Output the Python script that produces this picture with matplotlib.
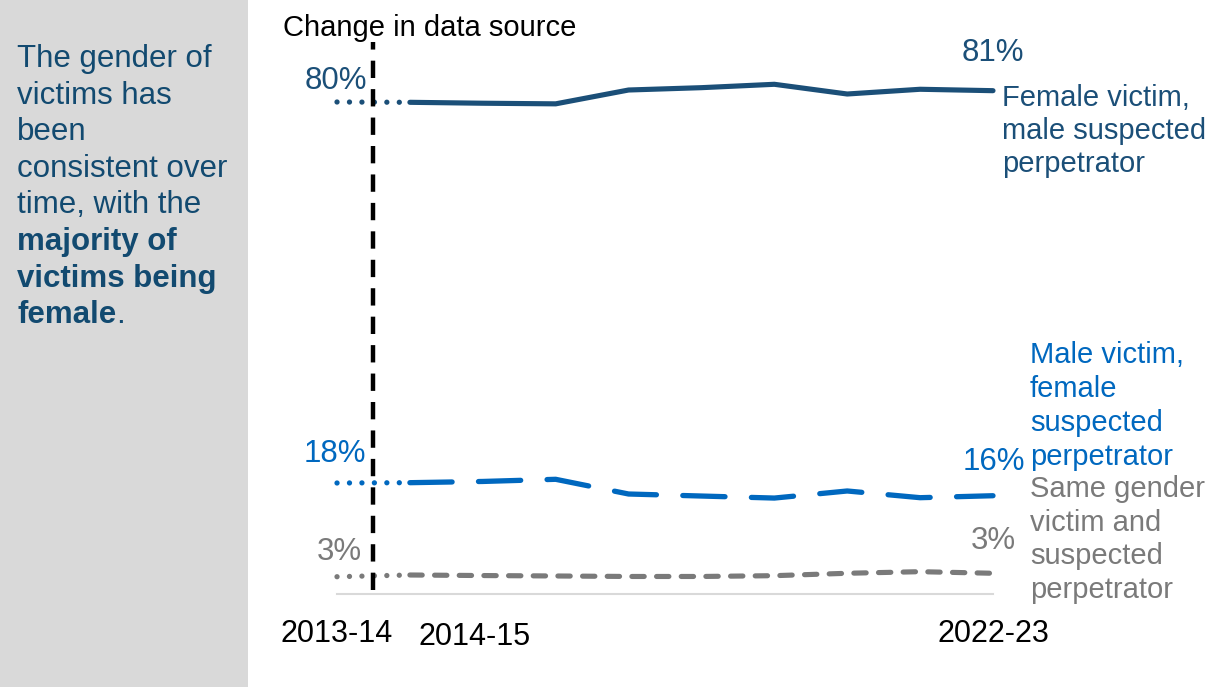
import matplotlib
matplotlib.use("Agg")
import matplotlib.pyplot as plt
from matplotlib.patches import Rectangle
from matplotlib.text import Annotation

plt.rcParams['font.family'] = ['Liberation Sans', 'DejaVu Sans']

# ---- data ----
years = ['2013-14', '2014-15', '2015-16', '2016-17', '2017-18',
         '2018-19', '2019-20', '2020-21', '2021-22', '2022-23']
female_victim = [80.0, 79.95, 79.8, 79.7, 81.95, 82.33, 82.88, 81.30, 82.07, 81.84]
male_victim = [18.05, 18.1, 18.3, 18.65, 16.26, 15.93, 15.6, 16.75, 15.66, 15.98]
same_gender = [2.81, 3.09, 3.0, 2.93, 2.85, 2.85, 2.98, 3.37, 3.63, 3.37]
shown_ticks = ['2013-14', '2014-15', '2022-23']

C_FEM = '#1b4f78'
C_MALE = '#0068bf'
C_GREY = '#7a7a7a'
C_PANEL_TXT = '#124a70'

W, H = 1207, 687
fig = plt.figure(figsize=(W / 100, H / 100), dpi=100)


def px(x, y):
    return x / W, 1 - y / H


# left grey panel
fig.patches.append(Rectangle((0, 0), 248 / W, 1, transform=fig.transFigure,
                             facecolor='#d9d9d9', edgecolor='none', zorder=0))

# axes placement: x index 0 at px 337, 9 at px 993; value 0 at px 594, 6.15 px per %
ax_l, ax_r, ax_b, ax_t = 337, 993, 594, 40
ax = fig.add_axes([ax_l / W, 1 - ax_b / H, (ax_r - ax_l) / W, (ax_b - ax_t) / H])
ax.set_xlim(0, len(years) - 1)
ax.set_ylim(0, (ax_b - ax_t) / 6.15)
ax.patch.set_alpha(0)
for s in ['top', 'right', 'left']:
    ax.spines[s].set_visible(False)
ax.spines['bottom'].set_color('#d9d9d9')
ax.spines['bottom'].set_linewidth(1.5)
ax.set_xticks([])
ax.set_yticks([])

x = list(range(len(years)))
dot_style = (0, (0.01, 2.35))

# dotted segments (change in data source)
for vals, col in [(female_victim, C_FEM), (male_victim, C_MALE), (same_gender, C_GREY)]:
    ax.plot(x[:2], vals[:2], color=col, lw=3.8, linestyle=dot_style,
            dash_capstyle='round', clip_on=False, zorder=3)

ax.plot(x[1:], female_victim[1:], color=C_FEM, lw=3.7, solid_capstyle='round',
        solid_joinstyle='round', clip_on=False, zorder=4)
ax.plot(x[1:], male_victim[1:], color=C_MALE, lw=3.8, linestyle=(0, (8, 5)),
        dash_capstyle='round', clip_on=False, zorder=4)
ax.plot(x[1:], same_gender[1:], color=C_GREY, lw=3.7, linestyle=(0, (2.4, 2.4)),
        dash_capstyle='round', clip_on=False, zorder=4)

# vertical dashed "change in data source" line
ymax = (ax_b - 42) / 6.15
ymin = (ax_b - 590) / 6.15
ax.plot([0.5, 0.5], [ymin, ymax], color='black', lw=3.2, linestyle=(0, (3.9, 2.5)),
        dash_capstyle='butt', clip_on=False, zorder=5)

fs = 21
fig.text(*px(283, 36), 'Change in data source', fontsize=fs, color='black',
         ha='left', va='baseline')

# value labels
pfs = 22.5
fig.text(*px(367, 89), '80%', fontsize=pfs, color=C_FEM, ha='right', va='baseline')
fig.text(*px(993, 61), '81%', fontsize=pfs, color=C_FEM, ha='center', va='baseline')
fig.text(*px(366, 462), '18%', fontsize=pfs, color=C_MALE, ha='right', va='baseline')
fig.text(*px(1025, 470), '16%', fontsize=pfs, color=C_MALE, ha='right', va='baseline')
fig.text(*px(362, 560), '3%', fontsize=pfs, color=C_GREY, ha='right', va='baseline')
fig.text(*px(1016, 549), '3%', fontsize=pfs, color=C_GREY, ha='right', va='baseline')

# series labels
for i, line in enumerate(['Female victim,', 'male suspected', 'perpetrator']):
    fig.text(*px(1002, 106 + 33 * i), line, fontsize=fs, color=C_FEM, va='baseline')
for i, line in enumerate(['Male victim,', 'female', 'suspected', 'perpetrator']):
    fig.text(*px(1030, 363 + 34 * i), line, fontsize=fs, color=C_MALE, va='baseline')
for i, line in enumerate(['Same gender', 'victim and', 'suspected', 'perpetrator']):
    fig.text(*px(1030, 497 + 33.7 * i), line, fontsize=fs, color=C_GREY, va='baseline')

# x labels
tick_pos = {'2013-14': (337, 642), '2014-15': (475, 645), '2022-23': (993, 642)}
for t in shown_ticks:
    fig.text(*px(*tick_pos[t]), t, fontsize=22, color='black', ha='center', va='baseline')

# left panel commentary
panel_lines = [('The gender of', 'normal'), ('victims has', 'normal'), ('been', 'normal'),
               ('consistent over', 'normal'), ('time, with the', 'normal'),
               ('majority of', 'bold'), ('victims being', 'bold'), ('female', 'bold')]
last = None
for i, (txt, w) in enumerate(panel_lines):
    last = fig.text(*px(17, 67 + 36.6 * i), txt, fontsize=22.5, color=C_PANEL_TXT,
                    fontweight=w, va='baseline')
a = Annotation('.', xy=(1, 0), xycoords=last, xytext=(0, 0), textcoords='offset points',
               fontsize=22.5, color=C_PANEL_TXT, va='bottom', ha='left')
fig.add_artist(a)

fig.savefig('out.png', dpi=100)
